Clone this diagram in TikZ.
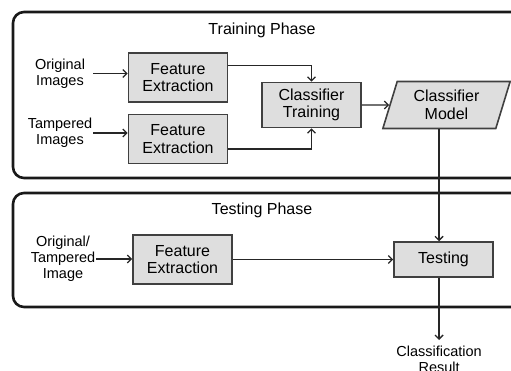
\documentclass[tikz,border=0pt]{standalone}
\usepackage{fontspec}
\setmainfont{Liberation Sans}
\usepackage{tikz}
\usetikzlibrary{shapes.geometric, arrows.meta, positioning, calc}
\tikzset{
    myarrow/.style={-{Straight Barb[length=4pt,width=8pt]}, line width=1.3pt, draw=black!85},
    box/.style={draw=black!75, line width=1.6pt, rectangle, fill=black!13, font=\fontsize{16}{17.5}\selectfont, minimum width=99pt, minimum height=49pt, align=center, inner sep=2pt},
    phase/.style={draw=black!90, line width=2.6pt, rounded corners=11pt},
    note/.style={font=\fontsize{14.5}{16}\selectfont, align=center, inner sep=1pt},
    title/.style={font=\fontsize{16}{18}\selectfont}
}

\begin{document}
\begin{tikzpicture}[x=1pt, y=-1pt]
    \clip (0,0) rectangle (511,371);
    % phase frames
    \draw [phase] (13,12) rectangle (540,178);
    \draw [phase] (13,193) rectangle (540,307);
    % training phase
    \node (trtitle) [title] at (262,30) {Training Phase};
    \node (fe1) [box] at (178,77.5) {Feature\\Extraction};
    \node (fe2) [box, below=11pt of fe1] {Feature\\Extraction};
    \node (orig) [note] at (60,73.5) {Original\\Images};
    \node (tamp) [note] at (60,133) {Tampered\\Images};
    \node (ct) [box, minimum height=45pt] at (311.5,105) {Classifier\\Training};
    \node (cm) [box, trapezium, trapezium left angle=73, trapezium right angle=107, minimum width=109pt, minimum height=47pt] at (446.5,105) {Classifier\\Model};
    \coordinate (drop) at ($(cm.bottom left corner)!0.5!(cm.bottom right corner)$);
    \draw [myarrow] (tamp.east |- orig) -- (orig -| fe1.west);
    \draw [myarrow] (tamp.east) -- (tamp -| fe2.west);
    \draw [myarrow] ([yshift=12pt]fe1.east) -| (ct.north);
    \draw [myarrow] ([yshift=-10pt]fe2.east) -| (ct.south);
    \draw [myarrow] (ct) -- (cm);
    % testing phase
    \node (tstitle) [title] at (262,210) {Testing Phase};
    \node (fe3) [box] at (182.5,259.5) {Feature\\Extraction};
    \node (query) [note] at (63,259) {Original/\\Tampered\\Image};
    \node (test) [box, minimum height=35pt] at (443.5,259.5) {Testing};
    \node (result) [note, anchor=north, inner ysep=6pt] at (drop |- 0,340) {Classification\\Result};
    \draw [myarrow] (query.east) -- (query -| fe3.west);
    \draw [myarrow] (fe3) -- (test);
    \draw [myarrow] (drop) -- (drop |- test.north);
    \draw [myarrow] (test.south -| drop) -- (result);
\end{tikzpicture}
\end{document}
